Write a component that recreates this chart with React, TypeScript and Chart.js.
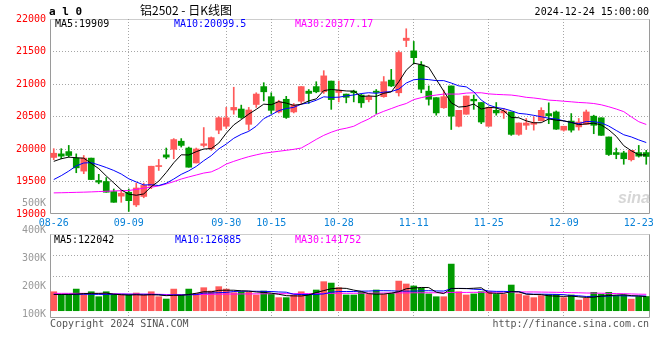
import React, { useEffect, useRef } from 'react';
import { Chart, registerables } from 'chart.js';

Chart.register(...registerables);

// ---------- data ----------
const DATES = [
  '08-26','08-27','08-28','08-29','08-30','09-02','09-03','09-04','09-05','09-06',
  '09-09','09-10','09-11','09-12','09-13','09-18','09-19','09-20','09-23','09-24',
  '09-25','09-26','09-27','09-30','10-08','10-09','10-10','10-11','10-14','10-15',
  '10-16','10-17','10-18','10-21','10-22','10-23','10-24','10-25','10-28','10-29',
  '10-30','10-31','11-01','11-04','11-05','11-06','11-07','11-08','11-11','11-12',
  '11-13','11-14','11-15','11-18','11-19','11-20','11-21','11-22','11-25','11-26',
  '11-27','11-28','11-29','12-02','12-03','12-04','12-05','12-06','12-09','12-10',
  '12-11','12-12','12-13','12-16','12-17','12-18','12-19','12-20','12-23','12-24',
];
const AXIS_DATES = ['08-26','09-09','09-30','10-15','10-28','11-11','11-25','12-09','12-23'];
const GRID_DATES = ['09-09','09-30','10-15','10-28','11-11','11-25','12-09'];

const OPEN = [
  19870,19925,19960,19860,19660,19860,19515,19500,19345,19275,
  19335,19140,19270,19430,19730,19910,19995,20120,20015,19785,
  20055,20005,20290,20350,20600,20615,20380,20685,20960,20805,
  20570,20765,20570,20735,20890,20960,20880,21045,20870,20845,
  20890,20830,20760,20890,20805,21060,20865,21670,21510,21295,
  20890,20790,20635,20970,20350,20535,20765,20715,20350,20595,
  20555,20570,20225,20365,20380,20435,20545,20570,20290,20430,
  20340,20380,20505,20480,20185,19945,19940,19835,19945,19945,
];
const HIGH = [
  20005,20005,20055,19925,19900,19860,19610,19560,19385,19360,
  19385,19475,19475,19735,19840,20015,20160,20160,20030,20015,
  20330,20185,20495,20640,20950,20675,20640,20865,21020,20865,
  20750,20810,20700,20960,20915,21035,21205,21045,21045,20845,
  20905,20845,20830,20915,21115,21225,21510,21850,21655,21345,
  20970,20790,20905,20970,20595,20815,20830,20715,20640,20715,
  20625,20570,20400,20470,20495,20635,20710,20585,20350,20545,
  20470,20600,20520,20480,20185,20015,19965,19980,20055,19980,
];
const LOW = [
  19835,19850,19875,19635,19620,19530,19465,19335,19180,19180,
  19040,19115,19250,19390,19670,19850,19850,20030,19720,19785,
  20030,19980,20235,20315,20535,20470,20290,20640,20740,20545,
  20555,20470,20555,20700,20700,20865,20855,20610,20725,20710,
  20725,20640,20725,20545,20795,20960,20815,21575,21310,20865,
  20675,20520,20625,20300,20340,20535,20610,20390,20350,20520,
  20470,20210,20210,20300,20290,20430,20390,20300,20275,20260,
  20290,20380,20235,20210,19900,19850,19765,19815,19875,19765,
];
const CLOSE = [
  19935,19890,19900,19710,19860,19530,19490,19335,19180,19320,
  19205,19400,19440,19735,19745,19875,20145,20055,19720,20000,
  20080,20175,20480,20480,20640,20485,20600,20845,20880,20595,
  20725,20485,20675,20960,20855,20880,21125,20760,20905,20795,
  20865,20710,20805,20870,21035,20970,21485,21705,21405,20920,
  20765,20555,20805,20505,20595,20815,20740,20415,20640,20555,
  20585,20225,20400,20400,20405,20595,20510,20305,20350,20290,
  20415,20570,20365,20210,19915,19915,19850,19980,19890,19885,
];
const MA5 = [
  19810,19850,19875,19865,19859,19778,19698,19585,19479,19371,
  19306,19288,19309,19420,19505,19639,19788,19911,19908,19959,
  20000,20006,20091,20243,20371,20452,20537,20610,20690,20681,
  20729,20706,20672,20688,20740,20771,20899,20916,20905,20893,
  20890,20807,20816,20809,20857,20878,21033,21213,21320,21297,
  21256,21070,20890,20710,20645,20655,20692,20614,20641,20633,
  20587,20484,20481,20433,20403,20405,20462,20443,20433,20410,
  20374,20386,20398,20370,20295,20195,20051,19974,19910,19909,
];
const MA10 = [
  19530,19590,19660,19740,19785,19790,19755,19715,19670,19615,
  19542,19493,19447,19450,19438,19473,19538,19610,19664,19732,
  19820,19897,20001,20076,20165,20226,20272,20351,20467,20526,
  20590,20622,20641,20689,20711,20750,20803,20794,20797,20817,
  20831,20853,20866,20857,20875,20884,20920,21015,21065,21077,
  21067,21052,21052,21015,20971,20956,20881,20752,20676,20639,
  20621,20588,20548,20537,20518,20496,20473,20462,20433,20407,
  20390,20424,20421,20402,20353,20285,20219,20186,20140,20099.5,
];
const MA30 = [
  19325,19327,19330,19333,19336,19340,19345,19350,19355,19358,
  19362,19378,19398,19412,19432,19462,19498,19538,19570,19600,
  19630,19648,19700,19768,19810,19848,19882,19910,19935,19950,
  19965,19980,19995,20015,20080,20148,20210,20258,20298,20320,
  20350,20410,20462,20532,20580,20622,20665,20700,20760,20790,
  20814,20830,20845,20845,20845,20860,20865,20865,20848,20840,
  20835,20830,20815,20795,20785,20770,20752,20745,20735,20726,
  20716,20710,20700,20680,20650,20615,20575,20495,20420,20377.17,
];
const VOLUME = [
  164000,141000,141000,187000,141000,164000,121000,164000,141000,136000,
  136000,153000,136000,164000,121000,101000,187000,136000,187000,150000,
  199000,170000,208000,187000,156000,164000,159000,136000,170000,141000,
  113000,113000,136000,164000,141000,179000,251000,239000,199000,136000,
  136000,159000,141000,179000,141000,150000,256000,231000,214000,194000,
  145000,121000,121000,403000,164000,136000,145000,164000,164000,141000,
  141000,222000,145000,130000,113000,130000,141000,141000,113000,136000,
  92000,107000,159000,142000,159000,130000,135000,100000,122000,123000,
];
const VMA5 = [
  141000,141000,141000,143000,148000,150000,150000,152000,143000,138000,
  135000,138000,135000,138000,136000,130000,133000,133000,140000,151000,
  164000,163000,176000,177000,177000,172000,170000,162000,158000,152000,
  142000,130000,128000,127000,136000,157000,174000,190000,195000,193000,
  178000,167000,147000,143000,144000,152000,164000,190000,196000,201000,
  200000,160000,148000,193000,192000,191000,194000,198000,153000,150000,
  150000,165000,163000,143000,140000,139000,129000,126000,124000,127000,
  120000,115000,117000,126000,131000,135000,138000,130000,127000,122042,
];
const VMA10 = [
  140000,140000,141000,141000,142000,142000,141000,141000,142000,143000,
  142000,142000,142000,141000,140000,134000,137000,136000,138000,139000,
  152000,153000,156000,158000,166000,169000,168000,168000,167000,166000,
  162000,160000,142000,140000,140000,141000,145000,160000,166000,166000,
  166000,169000,170000,173000,173000,172000,169000,169000,169000,172000,
  173000,171000,170000,190000,193000,192000,186000,183000,170000,167000,
  167000,165000,166000,146000,143000,143000,142000,141000,139000,131000,
  129000,123000,124000,124000,127000,130000,129000,127000,128000,126885,
];
const VMA30 = [
  150000,150000,150000,150000,150000,149000,149000,149000,147000,145000,
  144000,143000,143000,143000,142000,140000,139000,139000,139000,140000,
  141000,142000,143000,144000,144000,145000,145000,146000,146000,147000,
  147000,147000,147000,147000,148000,148000,149000,150000,151000,151000,
  151000,152000,152000,152000,153000,153000,154000,154000,155000,155000,
  155000,155000,155000,158000,158000,158000,159000,159000,160000,160000,
  161000,162000,162000,162000,162000,161000,160000,159000,158000,156000,
  155000,153000,152000,151000,150000,148000,147000,145000,143000,141752,
];

const PRICE_TICKS = [19000, 19500, 20000, 20500, 21000, 21500, 22000];
const VOLUME_TICKS = [100000, 200000, 300000, 400000, 500000];
const VOLUME_TICK_LABELS = ['100K', '200K', '300K', '400K', '500K'];
const PRICE_MA_TEXT = ['MA5:19909', 'MA10:20099.5', 'MA30:20377.17'];
const VOLUME_MA_TEXT = ['MA5:122042', 'MA10:126885', 'MA30:141752'];

// ---------- styles ----------
const MONO = '"DejaVu Sans Mono", monospace';
const UP = '#ff5a5a';
const DOWN = '#009a00';
const GRID = '#a6a6a6';
const MA_COLORS = ['#000000', '#0000ff', '#ff00ff'];
const TICK_FONT = { family: '"DejaVu Sans Mono"', size: 10 };

const candleColors = OPEN.map((o, i) => (CLOSE[i] >= o ? UP : DOWN));
const gridX = (ctx: any) => (GRID_DATES.includes(DATES[ctx.index]) ? GRID : 'rgba(0,0,0,0)');

const panelBorder = {
  id: 'panelBorder',
  beforeDatasetsDraw(chart: any) {
    const { ctx, chartArea: a } = chart;
    const l = Math.round(a.left) + 0.5;
    const r = Math.round(a.right) - 0.5;
    const t = Math.round(a.top) + 0.5;
    const b = Math.round(a.bottom) - 0.5;
    ctx.save();
    ctx.strokeStyle = '#9a9a9a';
    ctx.lineWidth = 1;
    ctx.beginPath();
    ctx.moveTo(l, t);
    ctx.lineTo(l, b);
    ctx.lineTo(r, b);
    ctx.lineTo(r, t);
    ctx.stroke();
    ctx.setLineDash([1, 1]);
    ctx.beginPath();
    ctx.moveTo(l, t);
    ctx.lineTo(r, t);
    ctx.stroke();
    ctx.restore();
  },
};

const maLine = (label: string, data: number[], color: string, axis: string) => ({
  type: 'line' as const,
  label,
  data,
  yAxisID: axis,
  borderColor: color,
  borderWidth: 1,
  pointRadius: 0,
  tension: 0,
  order: 0,
});

function priceConfig(): any {
  return {
    type: 'bar',
    data: {
      labels: DATES,
      datasets: [
        maLine('MA5', MA5, MA_COLORS[0], 'y'),
        maLine('MA10', MA10, MA_COLORS[1], 'y'),
        maLine('MA30', MA30, MA_COLORS[2], 'y'),
        {
          type: 'bar',
          label: 'body',
          data: OPEN.map((o, i) => [Math.min(o, CLOSE[i]), Math.max(o, CLOSE[i])]),
          backgroundColor: candleColors,
          barThickness: 6,
          minBarLength: 1,
          grouped: false,
          yAxisID: 'y',
          order: 1,
        },
        {
          type: 'bar',
          label: 'wick',
          data: LOW.map((l, i) => [l, HIGH[i]]),
          backgroundColor: candleColors,
          barThickness: 1,
          grouped: false,
          yAxisID: 'y',
          order: 2,
        },
      ],
    },
    options: {
      responsive: false,
      animation: false,
      events: [],
      layout: { padding: { top: 19, right: 10, left: 0, bottom: 0 } },
      plugins: { legend: { display: false }, tooltip: { enabled: false } },
      scales: {
        x: {
          type: 'category',
          offset: true,
          grid: { color: gridX, drawTicks: false, offset: false },
          border: { display: false, dash: [1, 2] },
          ticks: {
            autoSkip: false,
            maxRotation: 0,
            padding: 3,
            color: '#0a82d8',
            font: TICK_FONT,
            callback: (_v: any, i: number) => (AXIS_DATES.includes(DATES[i]) ? DATES[i] : ''),
          },
          afterFit: (s: any) => { s.height = 20; },
        },
        y: {
          min: 19000,
          max: 22000,
          afterBuildTicks: (s: any) => { s.ticks = PRICE_TICKS.map((v) => ({ value: v })); },
          ticks: { autoSkip: false, color: '#ff0000', font: TICK_FONT, padding: 4, callback: (v: any) => String(v) },
          grid: {
            color: (ctx: any) => (ctx.tick && ctx.tick.value > 19000 && ctx.tick.value < 22000 ? GRID : 'rgba(0,0,0,0)'),
            drawTicks: false,
          },
          border: { display: false, dash: [1, 2] },
          afterFit: (s: any) => { s.width = 50; },
        },
      },
    },
    plugins: [panelBorder],
  };
}

function volumeConfig(): any {
  return {
    type: 'bar',
    data: {
      labels: DATES,
      datasets: [
        maLine('VMA5', VMA5, MA_COLORS[0], 'yv'),
        maLine('VMA10', VMA10, MA_COLORS[1], 'yv'),
        maLine('VMA30', VMA30, MA_COLORS[2], 'yv'),
        {
          type: 'bar',
          label: 'volume',
          data: VOLUME,
          backgroundColor: candleColors,
          barThickness: 6,
          grouped: false,
          yAxisID: 'yv',
          order: 1,
        },
      ],
    },
    options: {
      responsive: false,
      animation: false,
      events: [],
      layout: { padding: { top: 234, right: 10, left: 0, bottom: 42 } },
      plugins: { legend: { display: false }, tooltip: { enabled: false } },
      scales: {
        x: {
          type: 'category',
          offset: true,
          grid: { color: gridX, drawTicks: false, offset: false },
          border: { display: false, dash: [1, 2] },
          ticks: { display: false },
          afterFit: (s: any) => { s.height = 0; },
        },
        yv: { display: false, min: -63000, max: 663000 },
        yl: {
          position: 'left',
          min: 85663,
          max: 388256,
          afterBuildTicks: (s: any) => { s.ticks = VOLUME_TICKS.map((v) => ({ value: v })); },
          ticks: {
            autoSkip: false,
            color: '#999999',
            font: TICK_FONT,
            padding: 4,
            callback: (_v: any, i: number) => VOLUME_TICK_LABELS[i],
          },
          grid: { display: false, drawTicks: false },
          border: { display: false },
          afterFit: (s: any) => { s.width = 50; },
        },
        yg: {
          position: 'left',
          min: 0,
          max: 4,
          afterBuildTicks: (s: any) => { s.ticks = [{ value: 2 }, { value: 3 }]; },
          ticks: { display: false },
          grid: { color: GRID, drawTicks: false },
          border: { display: false, dash: [1, 2] },
          afterFit: (s: any) => { s.width = 0; },
        },
      },
    },
    plugins: [panelBorder],
  };
}

const txt = (s: string, style: React.CSSProperties) => (
  <div
    style={{
      position: 'absolute',
      whiteSpace: 'pre',
      fontFamily: MONO,
      fontSize: 10,
      lineHeight: '12px',
      color: '#000',
      ...style,
    }}
  >
    {s}
  </div>
);

export default function App() {
  const priceRef = useRef<HTMLCanvasElement>(null);
  const volRef = useRef<HTMLCanvasElement>(null);

  useEffect(() => {
    const a = new Chart(priceRef.current as HTMLCanvasElement, priceConfig());
    const b = new Chart(volRef.current as HTMLCanvasElement, volumeConfig());
    return () => {
      a.destroy();
      b.destroy();
    };
  }, []);

  return (
    <div style={{ position: 'fixed', left: 0, top: 0, width: 660, height: 360, background: '#fff', overflow: 'hidden' }}>
      <canvas ref={priceRef} width={660} height={234} style={{ position: 'absolute', left: 0, top: 0, width: 660, height: 234 }} />
      <canvas ref={volRef} width={660} height={360} style={{ position: 'absolute', left: 0, top: 0, width: 660, height: 360 }} />

      {txt('a l 0', { left: 49, top: 5, fontSize: 11, lineHeight: '13px', fontWeight: 'bold' })}
      {txt('铝2502 - 日K线图', { left: 140, top: 3, fontSize: 12, lineHeight: '14px', fontFamily: '"Noto Sans CJK SC", sans-serif' })}
      {txt('2024-12-24 15:00:00', { right: 11, top: 6 })}

      {txt(PRICE_MA_TEXT[0], { left: 55, top: 18, color: MA_COLORS[0] })}
      {txt(PRICE_MA_TEXT[1], { left: 174, top: 18, color: MA_COLORS[1] })}
      {txt(PRICE_MA_TEXT[2], { left: 295, top: 18, color: MA_COLORS[2] })}

      {txt(VOLUME_MA_TEXT[0], { left: 54, top: 234, color: MA_COLORS[0] })}
      {txt(VOLUME_MA_TEXT[1], { left: 175, top: 234, color: MA_COLORS[1] })}
      {txt(VOLUME_MA_TEXT[2], { left: 295, top: 234, color: MA_COLORS[2] })}

      {txt('sina', {
        left: 618,
        top: 189,
        fontFamily: '"Liberation Sans", sans-serif',
        fontSize: 16,
        lineHeight: '18px',
        fontStyle: 'italic',
        fontWeight: 'bold',
        color: '#d6d6d6',
      })}

      {txt('Copyright 2024 SINA.COM', { left: 50, top: 318, color: '#555' })}
      {txt('http://finance.sina.com.cn', { right: 11, top: 318, color: '#555' })}
    </div>
  );
}
